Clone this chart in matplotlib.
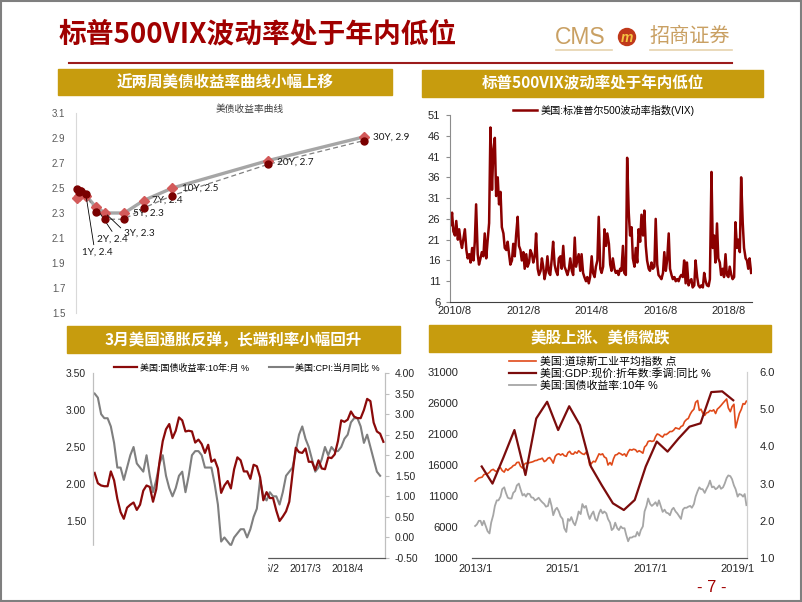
import numpy as np
import pandas as pd
import matplotlib
matplotlib.use('Agg')
import matplotlib.pyplot as plt
from matplotlib.patches import Rectangle, Ellipse
from matplotlib.lines import Line2D

plt.rcParams['font.family'] = ['Liberation Sans', 'Noto Sans CJK SC']
plt.rcParams['axes.unicode_minus'] = False

# ---------------- data ----------------
# panel 1: US treasury curve (now vs two weeks ago)
tenor_years = [1 / 12, 0.25, 0.5, 1, 2, 3, 5, 7, 10, 20, 30]
tenor_names = ['1M', '3M', '6M', '1Y', '2Y', '3Y', '5Y', '7Y', '10Y', '20Y', '30Y']
yield_now = [2.42, 2.44, 2.47, 2.44, 2.35, 2.30, 2.30, 2.40, 2.50, 2.72, 2.91]
yield_2w = [2.49, 2.47, 2.48, 2.45, 2.31, 2.25, 2.25, 2.34, 2.44, 2.69, 2.88]

# panel 2: VIX, semi-monthly readings from 2010-06-15
vix_2010 = [24.5, 27.5, 23.0, 22.0, 25.5, 21.0, 23.5, 20.5, 19.0, 21.5, 23.5, 18.5, 16.5]
vix_2011 = [17.5, 15.5, 19.0, 16.0, 20.5, 29.5, 17.5, 15.0, 16.5, 18.0, 17.0, 22.5,
            16.5, 20.5, 25.0, 48.0, 33.0, 42.5, 45.5, 31.5, 36.0, 29.5, 32.5, 24.0]
vix_2012 = [22.5, 19.0, 18.5, 20.5, 17.5, 15.0, 16.0, 20.0, 17.0, 22.0, 26.5, 19.5,
            18.5, 16.0, 18.0, 14.0, 17.5, 14.5, 15.5, 18.5, 17.5, 15.5, 17.0, 22.5]
vix_2013 = [14.0, 12.5, 13.5, 16.5, 14.5, 11.5, 13.5, 17.0, 13.0, 12.5, 16.5, 20.5,
            15.0, 13.5, 12.5, 16.5, 17.0, 14.0, 19.5, 14.5, 13.5, 12.5, 14.0, 16.5]
vix_2014 = [13.5, 12.5, 21.5, 14.5, 16.0, 17.5, 13.5, 17.5, 13.0, 12.0, 11.0, 12.0,
            10.5, 12.0, 17.0, 13.0, 12.0, 14.5, 16.0, 26.5, 14.0, 13.0, 14.5, 23.5]
vix_2015 = [19.5, 22.5, 20.0, 15.0, 13.5, 16.5, 14.0, 13.0, 13.5, 12.5, 14.0, 13.5,
            19.5, 13.0, 12.5, 40.7, 27.5, 22.0, 24.0, 16.5, 14.5, 19.0, 15.5, 23.5]
vix_2016 = [20.5, 27.0, 22.0, 28.0, 19.5, 16.0, 14.0, 13.5, 15.5, 14.0, 14.5, 26.0,
            15.0, 12.5, 12.0, 11.5, 13.0, 18.0, 13.5, 16.0, 22.5, 14.0, 12.5, 11.5]
vix_2017 = [12.0, 11.0, 11.5, 11.0, 12.0, 12.5, 12.0, 16.0, 10.5, 15.5, 10.0, 11.0,
            11.5, 9.5, 10.0, 16.0, 12.0, 10.0, 9.5, 10.0, 9.5, 13.0, 11.0, 10.0]
vix_2018 = [9.8, 11.5, 37.3, 19.0, 22.0, 15.5, 24.9, 16.5, 15.5, 12.5, 14.0, 12.0,
            17.5, 12.5, 12.0, 14.5, 12.5, 11.5, 12.0, 25.2, 19.0, 21.0, 18.0, 36.0]
vix_2019 = [25.0, 19.0, 16.5, 16.0, 14.0, 16.5, 13.0]
vix = vix_2010 + vix_2011 + vix_2012 + vix_2013 + vix_2014 + vix_2015 + vix_2016 + vix_2017 + vix_2018 + vix_2019
vix_ticks = ['2010-08-01', '2012-08-01', '2014-08-01', '2016-08-01', '2018-08-01']
vix_tick_labels = ['2010/8', '2012/8', '2014/8', '2016/8', '2018/8']

# panel 3: monthly 10Y yield (2011/10 - 2019/3) and CPI yoy (2011/10 - 2019/2)
ust10_m = [2.15, 2.01, 1.98,
           1.97, 1.97, 2.17, 2.05, 1.80, 1.62, 1.53, 1.68, 1.72, 1.75, 1.65, 1.72,
           1.91, 1.98, 1.96, 1.76, 1.93, 2.30, 2.58, 2.74, 2.81, 2.62, 2.72, 2.90,
           2.86, 2.71, 2.72, 2.71, 2.56, 2.60, 2.54, 2.42, 2.53, 2.30, 2.33, 2.21,
           1.88, 1.98, 2.04, 1.94, 2.20, 2.36, 2.32, 2.17, 2.17, 2.07, 2.26, 2.24,
           2.09, 1.78, 1.89, 1.81, 1.81, 1.64, 1.50, 1.56, 1.63, 1.76, 2.14, 2.49,
           2.43, 2.42, 2.48, 2.30, 2.30, 2.19, 2.32, 2.21, 2.20, 2.36, 2.35, 2.40,
           2.58, 2.86, 2.84, 2.87, 2.98, 2.91, 2.89, 2.89, 3.00, 3.15, 3.12, 2.83,
           2.71, 2.68, 2.57]
cpi_yoy = [3.5, 3.4, 3.0,
           2.9, 2.9, 2.7, 2.3, 1.7, 1.7, 1.4, 1.7, 2.0, 2.2, 1.8, 1.7,
           1.6, 2.0, 1.5, 1.1, 1.4, 1.8, 2.0, 1.5, 1.2, 1.0, 1.2, 1.5,
           1.6, 1.1, 1.5, 2.0, 2.1, 2.1, 2.0, 1.7, 1.7, 1.7, 1.3, 0.8,
           -0.1, 0.0, -0.1, -0.2, 0.0, 0.1, 0.2, 0.2, 0.0, 0.2, 0.5, 0.7,
           1.4, 1.0, 0.9, 1.1, 1.0, 1.0, 0.8, 1.1, 1.5, 1.6, 1.7, 2.1,
           2.5, 2.7, 2.4, 2.2, 1.9, 1.6, 1.7, 1.9, 2.2, 2.0, 2.2, 2.1,
           2.1, 2.2, 2.4, 2.5, 2.8, 2.9, 2.9, 2.7, 2.3, 2.5, 2.2, 1.9,
           1.6, 1.5]
months3 = pd.period_range('2011-10', periods=len(ust10_m), freq='M')

# panel 4: Dow (semi-monthly from 2013-01-01), 10Y yield (same), nominal GDP yoy (quarterly)
dow = ([13400, 13650, 13900, 13980, 14050, 14450, 14550, 14600, 14820, 15150, 15300, 15070,
        14900, 15450, 15550, 15100, 14850, 15400, 15130, 15400, 15600, 15900, 16000, 16400]
       + [16450, 15800, 15500, 16100, 16300, 16250, 16400, 16450, 16550, 16700, 16750, 16900,
          16950, 17100, 16550, 16700, 17100, 17200, 16800, 16300, 17400, 17700, 17800, 17600]
       + [17800, 17500, 17400, 18000, 18200, 17800, 17750, 18100, 17900, 18300, 18000, 17800,
          17700, 18050, 17500, 16000, 16300, 16600, 16500, 17100, 17800, 17650, 17800, 17300]
       + [17100, 16000, 16400, 16000, 17000, 17600, 17700, 17950, 17800, 17600, 17800, 17400,
          18100, 18500, 18400, 18550, 18450, 18100, 18300, 18150, 17900, 18900, 19200, 19800]
       + [19900, 19800, 19900, 20600, 21000, 20900, 20650, 20500, 20950, 20900, 21150, 21400,
          21400, 21600, 22000, 21900, 21800, 22200, 22350, 23000, 23350, 23500, 24200, 24650]
       + [25000, 26100, 26400, 24800, 25000, 24400, 24000, 24400, 24500, 24800, 24700, 24900,
          24300, 25000, 25300, 25600, 26000, 26300, 26650, 25200, 24600, 25400, 25800, 22000]
       + [23300, 24300, 25000, 25900, 25800, 26300])
ust10_d = ([1.86, 1.90, 2.00, 2.00, 1.88, 2.00, 1.85, 1.72, 1.66, 1.95, 2.15, 2.40,
            2.55, 2.55, 2.65, 2.85, 2.90, 2.75, 2.62, 2.60, 2.60, 2.75, 2.80, 2.95]
           + [3.00, 2.85, 2.68, 2.72, 2.65, 2.73, 2.72, 2.63, 2.62, 2.55, 2.58, 2.62,
              2.55, 2.50, 2.45, 2.38, 2.40, 2.60, 2.40, 2.15, 2.30, 2.35, 2.25, 2.12]
           + [2.05, 1.80, 1.70, 2.05, 2.00, 2.10, 1.95, 1.88, 2.05, 2.25, 2.18, 2.45,
              2.35, 2.40, 2.18, 2.05, 2.18, 2.25, 2.05, 2.00, 2.20, 2.30, 2.20, 2.25]
           + [2.20, 2.05, 1.95, 1.75, 1.80, 1.95, 1.80, 1.75, 1.85, 1.80, 1.80, 1.62,
              1.45, 1.55, 1.55, 1.58, 1.58, 1.70, 1.60, 1.75, 1.85, 2.25, 2.40, 2.60]
           + [2.45, 2.40, 2.45, 2.50, 2.40, 2.55, 2.38, 2.24, 2.30, 2.22, 2.20, 2.15,
              2.30, 2.35, 2.25, 2.20, 2.12, 2.05, 2.30, 2.35, 2.35, 2.38, 2.40, 2.35]
           + [2.45, 2.65, 2.80, 2.90, 2.85, 2.85, 2.75, 2.85, 2.95, 3.08, 2.90, 2.92,
              2.85, 2.88, 2.95, 2.86, 2.90, 3.00, 3.15, 3.22, 3.20, 3.12, 2.95, 2.85]
           + [2.65, 2.72, 2.70, 2.65, 2.72, 2.42])
gdp_yoy = [3.46, 3.00, 3.70, 4.44, 3.23, 4.75, 5.20, 4.44, 5.08, 4.57, 3.46, 2.95,
           2.47, 2.29, 2.56, 3.46, 4.13, 3.86, 4.21, 4.53, 4.62, 5.46, 5.48, 5.24]
dow_ticks = ['2013-01-01', '2015-01-01', '2017-01-01', '2019-01-01']
dow_tick_labels = ['2013/1', '2015/1', '2017/1', '2019/1']

# ---------------- layout helpers (pixel boxes on an 802x602 page) ----------------
W, H = 802, 602
GOLD = '#c79c0e'
DARKRED = '#a00000'


def rect(l, t, r, b):
    return [l / W, 1 - b / H, (r - l) / W, (b - t) / H]


fig = plt.figure(figsize=(W / 100, H / 100), dpi=100)

# page frame, title and logo
fig.add_artist(Rectangle((0.6 / W, 0.6 / H), (W - 1.8) / W, (H - 1.8) / H, fill=False,
                         edgecolor='#7f7f7f', lw=1.5, transform=fig.transFigure))
fig.text(59 / W, 1 - 34 / H, '标普500VIX波动率处于年内低位', fontsize=20, fontweight='bold',
         color=DARKRED, family=['Noto Sans CJK SC'], va='center', ha='left')
fig.text(555 / W, 1 - 37 / H, 'CMS', fontsize=16.5, color='#c9a063', va='center', ha='left')
fig.add_artist(Ellipse((627 / W, 1 - 37 / H), 17 / W, 17 / H, color='#c0391b', transform=fig.transFigure))
fig.text(627 / W, 1 - 37.5 / H, 'm', fontsize=10, color='#f5c542', fontweight='bold', style='italic',
         ha='center', va='center')
fig.text(649 / W, 1 - 37 / H, '招商证券', fontsize=14.5, color='#c9a063', va='center', ha='left',
         family=['Noto Sans CJK SC'])
fig.add_artist(Line2D([556 / W, 612 / W], [1 - 50 / H] * 2, color='#e6d3ae', lw=1.2))
fig.add_artist(Line2D([650 / W, 732 / W], [1 - 50 / H] * 2, color='#e6d3ae', lw=1.2))
fig.add_artist(Line2D([69 / W, 732 / W], [1 - 63 / H] * 2, color='#9b1b1b', lw=1.5))

headers = [(58, 69, 392, 95, '近两周美债收益率曲线小幅上移'),
           (422, 70, 763, 97, '标普500VIX波动率处于年内低位'),
           (67, 326, 400, 353, '3月美国通胀反弹，长端利率小幅回升'),
           (429, 325, 771, 352, '美股上涨、美债微跌')]
for l, t, r, b, txt in headers:
    fig.add_artist(Rectangle((l / W, 1 - b / H), (r - l) / W, (b - t) / H, color=GOLD,
                             transform=fig.transFigure))
    fig.text((l + r) / 2 / W, 1 - (t + b) / 2 / H, txt, color='white', fontsize=11.2, fontweight='bold',
             ha='center', va='center', family=['Noto Sans CJK SC'])

# ---------------- panel 1: yield curve ----------------
ax1 = fig.add_axes(rect(76.4, 113, 374, 313))
ax1.plot(tenor_years, yield_now, color='#a6a6a6', lw=2.4, zorder=2, clip_on=False)
ax1.plot(tenor_years, yield_2w, color='#7f7f7f', lw=0.9, ls=(0, (4, 2.5)), zorder=2, clip_on=False)
ax1.plot(tenor_years, yield_now, ls='none', marker='D', ms=5.5, color='#d35a5a', zorder=3, clip_on=False)
ax1.plot(tenor_years, yield_2w, ls='none', marker='o', ms=5, color='#7a0000', zorder=4, clip_on=False)
ax1.set_xlim(0, 31)
ax1.set_ylim(1.5, 3.1)
ax1.set_yticks(np.arange(1.5, 3.11, 0.2))
ax1.set_yticklabels([f'{v:.1f}' for v in np.arange(1.5, 3.11, 0.2)])
ax1.set_xticks([])
for s in ['top', 'right', 'bottom']:
    ax1.spines[s].set_visible(False)
ax1.spines['left'].set_color('#d9d9d9')
ax1.tick_params(axis='y', length=0, labelsize=7, labelcolor='#595959', pad=8)
ax1.set_facecolor('none')
fig.text(250 / W, 1 - 109 / H, '美债收益率曲线', fontsize=7, color='#404040', ha='center', va='center',
         family=['Noto Sans CJK SC'])

label_offsets = [(-2.9, -40.7), (1.0, -23.0), (13.2, -14.6), (6.2, 0), (6.0, 0), (6.9, 0), (6.2, -1.2), (6.2, 0)]
leader = [(0.4, 1.0), (0.55, 1.0), (0.0, 0.8), None, None, None, None, None]
for k, i in enumerate(range(3, len(tenor_names))):
    kw = {}
    if leader[k] is not None:
        kw['arrowprops'] = dict(arrowstyle='-', color='black', lw=0.6, relpos=leader[k], shrinkA=0, shrinkB=2)
    ax1.annotate(f'{tenor_names[i]}, {yield_now[i]:.1f}', xy=(tenor_years[i], yield_now[i]),
                 xytext=label_offsets[k], textcoords='offset points', fontsize=7.2, family=['Lato'],
                 ha='left', va='center', color='#1a1a1a', annotation_clip=False, **kw)

# ---------------- panel 2: VIX ----------------
ax2 = fig.add_axes(rect(450, 115, 752, 302))
vix_dates = pd.date_range('2010-06-15', periods=len(vix), freq='SMS')
ax2.plot(vix_dates, vix, color='#8b0000', lw=1.8, label='美国:标准普尔500波动率指数(VIX)')
ax2.set_ylim(6, 51)
ax2.set_yticks(range(6, 52, 5))
ax2.set_xlim(pd.Timestamp('2010-06-09'), pd.Timestamp('2019-04-10'))
ax2.set_xticks(pd.to_datetime(vix_ticks))
ax2.set_xticklabels(vix_tick_labels)
for s in ['top', 'right']:
    ax2.spines[s].set_visible(False)
ax2.spines['left'].set_color('#8c8c8c')
ax2.spines['bottom'].set_color('#404040')
ax2.tick_params(axis='y', length=3, color='#8c8c8c', labelsize=8, labelcolor='#262626', pad=4)
ax2.tick_params(axis='x', length=0, labelsize=8, labelcolor='#262626', pad=3)
ax2.legend(loc='center left', bbox_to_anchor=(513 / W, 1 - 110 / H), bbox_transform=fig.transFigure,
           frameon=False, fontsize=7.3, handlelength=2.4, handletextpad=0.3, borderpad=0, borderaxespad=0)

# ---------------- panel 3: 10Y vs CPI ----------------
ax3 = fig.add_axes(rect(93, 373, 385, 558))
ax3b = ax3.twinx()
x3 = np.arange(len(ust10_m))
ax3.plot(x3, ust10_m, color='#8b0a0a', lw=1.6)
ax3b.plot(np.arange(len(cpi_yoy)), cpi_yoy, color='#7f7f7f', lw=1.5)
ax3.set_zorder(ax3b.get_zorder() + 1)
ax3.patch.set_visible(False)
ax3.set_xlim(-0.5, len(ust10_m) - 0.5)
ax3.set_ylim(1.0, 3.5)
ax3b.set_ylim(-0.5, 4.0)
ax3.set_yticks(np.arange(1.0, 3.51, 0.5))
ax3.set_yticklabels([f'{v:.2f}' for v in np.arange(1.0, 3.51, 0.5)])
ax3b.set_yticks(np.arange(-0.5, 4.01, 0.5))
ax3b.set_yticklabels([f'{v:.2f}' for v in np.arange(-0.5, 4.01, 0.5)])
tick_idx3 = list(range(0, len(ust10_m), 13))
ax3.set_xticks(tick_idx3)
ax3.set_xticklabels([f'{months3[i].year}/{months3[i].month}' for i in tick_idx3])
for a in (ax3, ax3b):
    a.spines['top'].set_visible(False)
    a.spines['left'].set_color('#bfbfbf')
    a.spines['right'].set_color('#bfbfbf')
    a.spines['bottom'].set_color('#595959')
ax3.tick_params(axis='y', length=0, labelsize=7.5, labelcolor='#262626', pad=5)
ax3b.tick_params(axis='y', length=3, color='#bfbfbf', labelsize=7.5, labelcolor='#262626', pad=4)
ax3.tick_params(axis='x', length=0, labelsize=7.5, labelcolor='#262626', pad=4)
h3 = [Line2D([], [], color='#8b0a0a', lw=1.6), Line2D([], [], color='#7f7f7f', lw=1.5)]
ax3.legend(h3, ['美国:国债收益率:10年:月 %', '美国:CPI:当月同比 %'], ncol=2, loc='center left',
           bbox_to_anchor=(114 / W, 1 - 368 / H), bbox_transform=fig.transFigure, frameon=False,
           fontsize=6.5, handlelength=2.6, handletextpad=0.3, columnspacing=2.2, borderpad=0, borderaxespad=0)

# white patch that hides the lower-left part of panel 3 in the original slide
fig.add_artist(Rectangle((55 / W, 1 - 592 / H), (267 - 55) / W, (592 - 545.5) / H, color='white',
                         transform=fig.transFigure, zorder=10))

# ---------------- panel 4: Dow, GDP, 10Y ----------------
ax4 = fig.add_axes(rect(472, 372, 747, 558))
ax4b = ax4.twinx()
dow_dates = pd.date_range('2013-01-01', periods=len(dow), freq='SMS')
ust_dates = pd.date_range('2013-01-01', periods=len(ust10_d), freq='SMS')
gdp_dates = pd.period_range('2013Q1', periods=len(gdp_yoy), freq='Q').to_timestamp(how='start') + pd.Timedelta(days=55)
l_dow, = ax4.plot(dow_dates, dow, color='#e04a1a', lw=1.2)
l_ust, = ax4b.plot(ust_dates, ust10_d, color='#a6a6a6', lw=1.3)
l_gdp, = ax4b.plot(gdp_dates, gdp_yoy, color='#7b0c0c', lw=1.6)
ax4.set_xlim(pd.Timestamp('2012-12-06'), pd.Timestamp('2019-03-20'))
ax4.set_ylim(1000, 31000)
ax4.set_yticks(range(1000, 31001, 5000))
ax4b.set_ylim(1.0, 6.0)
ax4b.set_yticks(np.arange(1.0, 6.01, 1.0))
ax4b.set_yticklabels([f'{v:.1f}' for v in np.arange(1.0, 6.01, 1.0)])
ax4.set_xticks(pd.to_datetime(dow_ticks))
ax4.set_xticklabels(dow_tick_labels)
for a in (ax4, ax4b):
    a.spines['top'].set_visible(False)
    a.spines['left'].set_visible(False)
    a.spines['right'].set_color('#d0d0d0')
    a.spines['bottom'].set_color('#595959')
ax4.tick_params(axis='y', length=0, labelsize=8, labelcolor='#262626', pad=10)
ax4b.tick_params(axis='y', length=0, labelsize=8, labelcolor='#262626', pad=9)
ax4.tick_params(axis='x', length=0, labelsize=8, labelcolor='#262626', pad=4)
ax4.legend([l_dow, l_gdp, l_ust], ['美国:道琼斯工业平均指数 点', '美国:GDP:现价:折年数:季调:同比 %', '美国:国债收益率:10年 %'],
           loc='upper left', bbox_to_anchor=(509 / W, 1 - 356 / H), bbox_transform=fig.transFigure,
           frameon=False, fontsize=7.8, handlelength=2.5, handletextpad=0.4, labelspacing=0.15,
           borderpad=0, borderaxespad=0)

fig.text(712 / W, 1 - 588 / H, '- 7 -', fontsize=12, color=DARKRED, ha='center', va='center')

fig.savefig('out.png', dpi=100)
